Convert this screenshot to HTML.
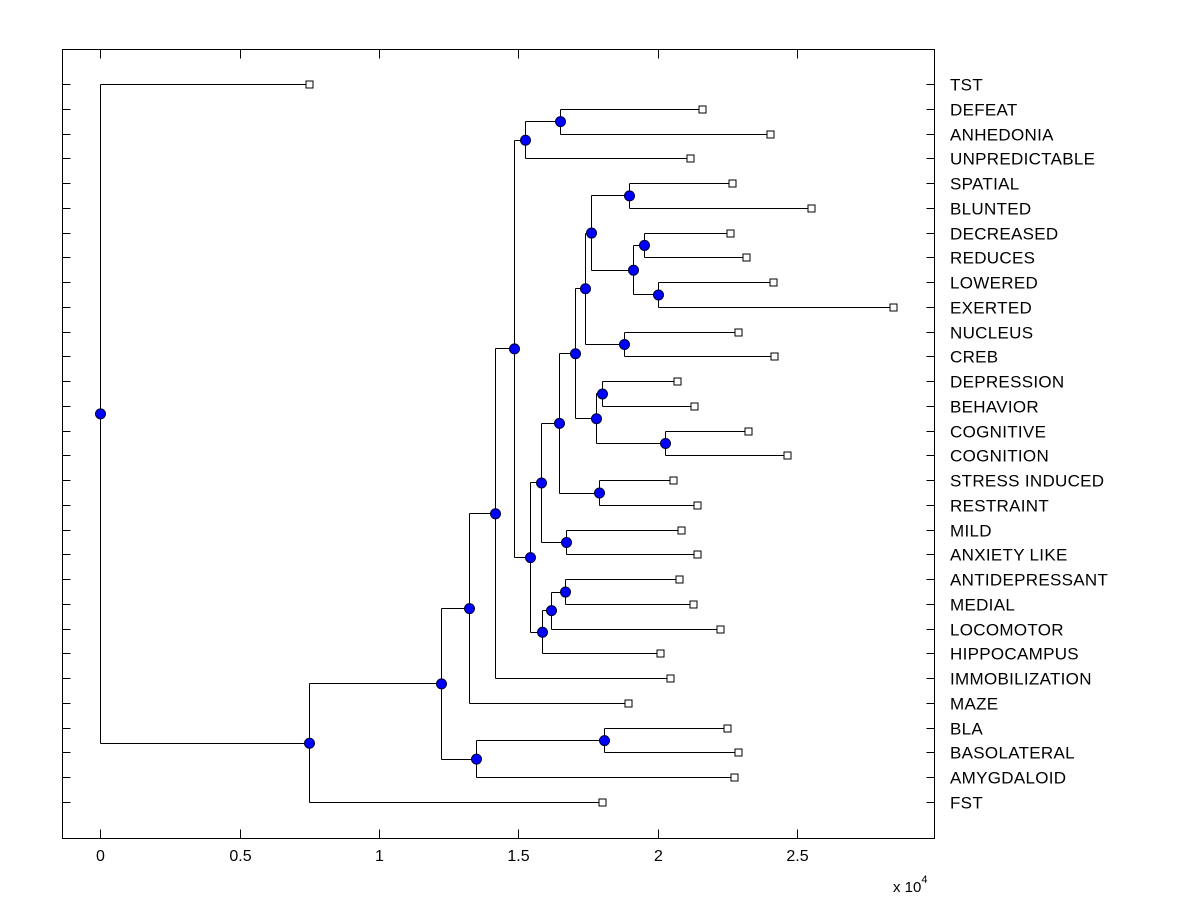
<!DOCTYPE html>
<html><head><meta charset="utf-8">
<style>
html,body{margin:0;padding:0;background:#fff;}
svg{display:block;font-family:"Liberation Sans",Arial,sans-serif;}
</style></head>
<body>
<svg id="chart" width="1200" height="900" viewBox="0 0 1200 900">
<rect x="0" y="0" width="1200" height="900" fill="#fff"/>
<rect x="62.5" y="49.5" width="872" height="789" fill="#fff" stroke="#000" stroke-width="1"/>
<g id="ticks"></g>
<g id="tree"></g>
<g id="marks"></g>
<g id="labels"></g>
<text x="893" y="892" font-size="15">x 10<tspan dy="-9" font-size="11">4</tspan></text>
</svg>
<script>
const leafLabels = ["TST","DEFEAT","ANHEDONIA","UNPREDICTABLE","SPATIAL","BLUNTED","DECREASED","REDUCES","LOWERED","EXERTED","NUCLEUS","CREB","DEPRESSION","BEHAVIOR","COGNITIVE","COGNITION","STRESS INDUCED","RESTRAINT","MILD","ANXIETY LIKE","ANTIDEPRESSANT","MEDIAL","LOCOMOTOR","HIPPOCAMPUS","IMMOBILIZATION","MAZE","BLA","BASOLATERAL","AMYGDALOID","FST"];
const leafHeights = [0.75,2.159,2.403,2.116,2.267,2.550,2.260,2.317,2.414,2.844,2.288,2.418,2.070,2.131,2.324,2.464,2.055,2.141,2.084,2.141,2.077,2.127,2.224,2.009,2.045,1.894,2.249,2.288,2.274,1.801];
const mergeChildA = [1,30,4,6,8,33,32,10,36,12,14,39,38,16,42,18,44,20,47,48,46,31,51,52,26,54,53,56,0];
const mergeChildB = [2,3,5,7,9,34,35,11,37,13,15,40,41,17,43,19,45,21,22,23,49,50,24,25,27,28,55,29,57];
const mergeHeights = [1.650,1.524,1.897,1.951,2.001,1.912,1.761,1.880,1.740,1.801,2.027,1.779,1.704,1.790,1.646,1.671,1.582,1.668,1.618,1.585,1.542,1.485,1.417,1.324,1.808,1.349,1.223,0.750,0.0];
const xTicks = [0,0.5,1,1.5,2,2.5];
const xTickLabels = ["0","0.5","1","1.5","2","2.5"];

const X0=62.5, X1=934.5, Y0=49.5, Y1=838.5;
const xMin=-0.137, xMax=2.99;
function xScale(v){return X0+(v-xMin)/(xMax-xMin)*(X1-X0);}
function yScale(i){return 84+i*(802-84)/(leafLabels.length-1);}
const NS="http://www.w3.org/2000/svg";
function mk(tag,attrs,parent){const e=document.createElementNS(NS,tag);for(const k in attrs)e.setAttribute(k,attrs[k]);parent.appendChild(e);return e;}

const ticks=document.getElementById('ticks'), tree=document.getElementById('tree'), marks=document.getElementById('marks'), labels=document.getElementById('labels');

xTicks.forEach((t,i)=>{
  const x=Math.round(xScale(t)-0.5)+0.5;
  const a=mk('line',{x1:x,y1:Y1,x2:x,y2:Y1-9,stroke:'#000'},ticks);
  
  
  const b=mk('line',{x1:x,y1:Y0,x2:x,y2:Y0+9,stroke:'#000'},ticks);
  
  
  const tx=mk('text',{x:x,y:861,'font-size':16,'text-anchor':'middle'},ticks);
  tx.textContent=xTickLabels[i];
  
  
});
const n=leafLabels.length;
for(let i=0;i<n;i++){
  const y=Math.round(yScale(i))+0.5;
  const a=mk('line',{x1:X0,y1:y,x2:X0+8,y2:y,stroke:'#000'},ticks);
  
  
  const b=mk('line',{x1:X1,y1:y,x2:X1-8,y2:y,stroke:'#000'},ticks);
  
  
  const tx=mk('text',{x:950,y:y+6,'font-size':17,'letter-spacing':'0.3'},labels);
  tx.textContent=leafLabels[i];
  
  
}

const pos=[], hgt=[];
for(let i=0;i<n;i++){pos[i]=yScale(i);hgt[i]=leafHeights[i];}
const m=mergeChildA.length;
for(let k=0;k<m;k++){
  const a=mergeChildA[k], b=mergeChildB[k];
  pos[n+k]=((pos[a]||0)+(pos[b]||0))/2;
  hgt[n+k]=mergeHeights[k];
}
function px(v){return Math.round(xScale(v)-0.5)+0.5;}
for(let k=0;k<m;k++){
  const id=n+k, xn=px(hgt[id]);
  const ch=[mergeChildA[k],mergeChildB[k]];
  for(let j=0;j<2;j++){
    const c=ch[j];
    const yc=Math.round(pos[c])+0.5, xc=px(hgt[c]);
    const h=mk('line',{x1:xn,y1:yc,x2:xc,y2:yc,stroke:'#000'},tree);
    
    
  }
  const v=mk('line',{x1:xn,y1:Math.round(pos[ch[0]])+0.5,x2:xn,y2:Math.round(pos[ch[1]])+0.5,stroke:'#000'},tree);
  
  
}
for(let k=0;k<m;k++){
  const id=n+k;
  const c=mk('circle',{cx:px(hgt[id]),cy:pos[id]+0.5,r:5,fill:'#0000ff',stroke:'#000033','stroke-width':1},marks);
  
  
}
for(let i=0;i<n;i++){
  const x=px(hgt[i]), y=Math.round(pos[i])+0.5;
  const r=mk('rect',{x:x-3.5,y:y-3.5,width:7,height:7,fill:'#fff',stroke:'#000'},marks);
  
  
}
</script>
</body></html>
